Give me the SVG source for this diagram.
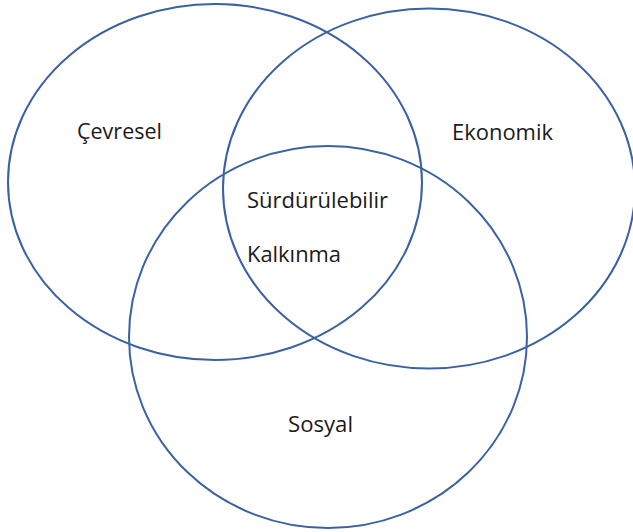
<svg xmlns="http://www.w3.org/2000/svg" width="633" height="532" viewBox="0 0 633 532">
  <style>
    .ring { fill: none; stroke: #3A62A2; stroke-width: 2; }
    .label { font-family: "Open Sans", "Liberation Sans", sans-serif; font-size: 21px; fill: #1a1a1a; }
  </style>
  <rect width="633" height="532" fill="#ffffff"/>
  <g id="cevresel">
    <ellipse class="ring" cx="215" cy="182" rx="207" ry="178"/>
    <text class="label" x="77" y="139" textLength="85" lengthAdjust="spacingAndGlyphs">Çevresel</text>
  </g>
  <g id="ekonomik">
    <ellipse class="ring" cx="429" cy="188.5" rx="206" ry="180"/>
    <text class="label" x="452" y="140" textLength="101" lengthAdjust="spacingAndGlyphs">Ekonomik</text>
  </g>
  <g id="sosyal">
    <ellipse class="ring" cx="328" cy="337" rx="199" ry="191"/>
    <text class="label" x="288" y="432" textLength="65" lengthAdjust="spacingAndGlyphs">Sosyal</text>
  </g>
  <g id="surdurulebilir-kalkinma">
    <text class="label" x="247" y="208" textLength="141" lengthAdjust="spacingAndGlyphs">Sürdürülebilir</text>
    <text class="label" x="247" y="262" textLength="94" lengthAdjust="spacingAndGlyphs">Kalkınma</text>
  </g>
  <g id="connectors"/>
</svg>
